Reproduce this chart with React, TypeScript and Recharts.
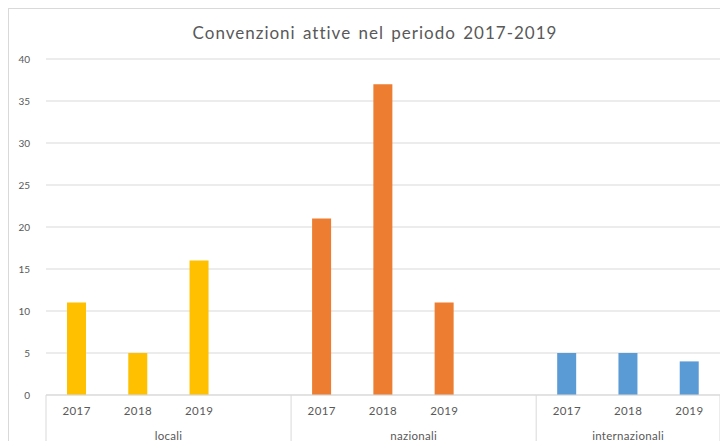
import React from 'react';
import { BarChart, Bar, XAxis, YAxis, CartesianGrid, Cell } from 'recharts';

const years = ['2017', '2018', '2019'];
const groupNames = ['locali', 'nazionali', 'internazionali'];
const locali = [11, 5, 16];
const nazionali = [21, 37, 11];
const internazionali = [5, 5, 4];
const groupColors = ['#FFC000', '#ED7D31', '#5B9BD5'];
const yTicks = [0, 5, 10, 15, 20, 25, 30, 35, 40];

const seriesByGroup = [locali, nazionali, internazionali];

// one row per slot; an empty slot closes the first two groups
const data: { label: string; group: number; value: number | null }[] = [];
const groupStart: number[] = [];
const groupLen: number[] = [];
seriesByGroup.forEach((vals, g) => {
  groupStart.push(data.length);
  vals.forEach((v, i) => data.push({ label: years[i], group: g, value: v }));
  if (g < seriesByGroup.length - 1) data.push({ label: '', group: g, value: null });
  groupLen.push(data.length - groupStart[g]);
});

const font = 'Lato, "Open Sans", sans-serif';
const textColor = '#595959';
const lineColor = '#d9d9d9';

function YearTick(props: any) {
  const { x, y, payload } = props;
  return (
    <text x={x} y={y} dy={12} textAnchor="middle" fill={textColor} fontSize={11.5} letterSpacing={0.4} fontFamily={font}>
      {payload.value}
    </text>
  );
}

function GroupTick(props: any) {
  const { x, y, index, payload } = props;
  const half = payload.offset || 0;
  const row = data[index];
  if (!row) return null;
  const g = row.group;
  const s = groupStart[g];
  const n = groupLen[g];
  const els: React.ReactNode[] = [];
  if (index === s) {
    els.push(<line key="l" x1={x - half} x2={x - half} y1={y - 33} y2={y + 30} stroke={lineColor} />);
  }
  if (index === data.length - 1) {
    els.push(<line key="r" x1={x + half} x2={x + half} y1={y - 33} y2={y + 30} stroke={lineColor} />);
  }
  if (index === s + Math.floor((n - 1) / 2)) {
    const cx = x + (s + (n - 1) / 2 - index) * 2 * half;
    els.push(
      <text key="t" x={cx} y={y} dy={12} textAnchor="middle" fill={textColor} fontSize={11.5} letterSpacing={0.3} fontFamily={font}>
        {groupNames[g]}
      </text>
    );
  }
  return <g>{els}</g>;
}

export default function App() {
  return (
    <div style={{ width: 740, height: 450, border: `1px solid ${lineColor}`, position: 'relative', background: '#fff', fontFamily: font }}>
      <div style={{ position: 'absolute', top: 13, left: 0, width: 732, textAlign: 'center', fontSize: 17, letterSpacing: 1, wordSpacing: 2, color: textColor }}>
        Convenzioni attive nel periodo 2017-2019
      </div>
      <BarChart
        width={711}
        height={441}
        data={data}
        margin={{ top: 50, right: 0, left: 0, bottom: 0 }}
        barSize={19}
        style={{ position: 'absolute', top: 0, left: 0 }}
      >
        <CartesianGrid vertical={false} stroke={lineColor} />
        <YAxis
          domain={[0, 40]}
          ticks={yTicks}
          width={37}
          axisLine={false}
          tickLine={false}
          tick={{ fill: textColor, fontSize: 10, fontFamily: font }}
          tickMargin={10}
        />
        <XAxis
          dataKey="label"
          xAxisId={0}
          height={25}
          axisLine={{ stroke: lineColor }}
          tickLine={false}
          tick={<YearTick />}
          interval={0}
        />
        <XAxis
          dataKey="label"
          xAxisId={1}
          height={30}
          axisLine={false}
          tickLine={false}
          tick={<GroupTick />}
          interval={0}
        />
        <Bar dataKey="value" xAxisId={0} isAnimationActive={false}>
          {data.map((d, i) => (
            <Cell key={i} fill={groupColors[d.group]} />
          ))}
        </Bar>
      </BarChart>
    </div>
  );
}
